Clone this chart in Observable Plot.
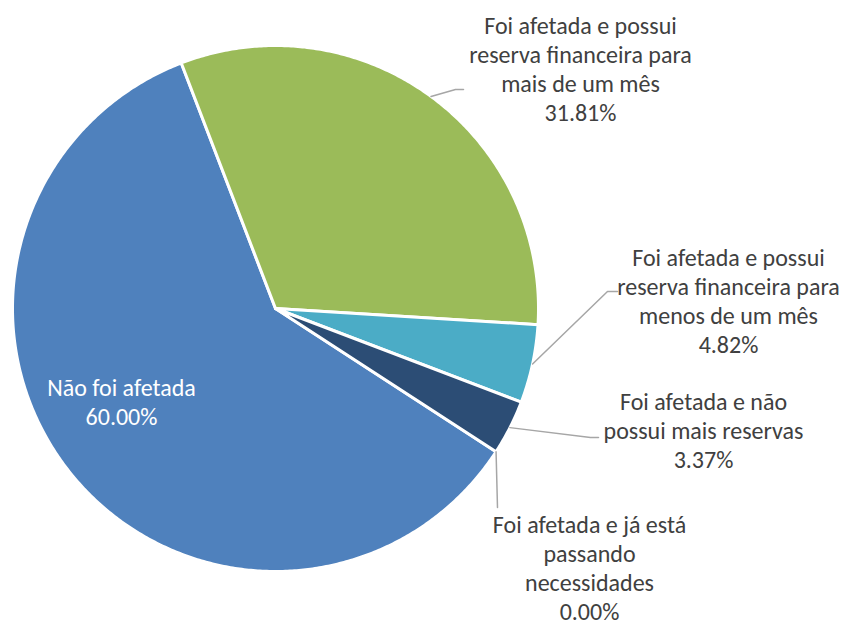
<!DOCTYPE html>
<html><head><meta charset="utf-8">
<script src="https://cdn.jsdelivr.net/npm/d3@7"></script>
<script src="https://cdn.jsdelivr.net/npm/@observablehq/plot@0.6"></script>
<style>html,body{margin:0;padding:0;background:#fff}</style>
</head><body><div id="chart"></div>
<script>
// ---- data ----
const categories = [
  "Não foi afetada",
  "Foi afetada e possui reserva financeira para mais de um mês",
  "Foi afetada e possui reserva financeira para menos de um mês",
  "Foi afetada e não possui mais reservas",
  "Foi afetada e já está passando necessidades"
];
const values = [60.00, 31.81, 4.82, 3.37, 0.00];
const labelLines = [
  ["Não foi afetada"],
  ["Foi afetada e possui", "reserva financeira para", "mais de um mês"],
  ["Foi afetada e possui", "reserva financeira para", "menos de um mês"],
  ["Foi afetada e não", "possui mais reservas"],
  ["Foi afetada e já está", "passando", "necessidades"]
];
const colors = ["#4F81BD", "#9BBB59", "#4BACC6", "#2C4D75", "#8064A2"];

// ---- layout ----
const W = 844, H = 621;
const cx = 275, cy = 308, R = 263, firstSliceAngle = 123;
const labelLayout = [
  {x: 121, y: 401, inside: true, elbow: []},
  {x: 580, y: 68, elbow: [[455, 89], [463, 89]]},
  {x: 728, y: 300, elbow: [[607, 291], [617, 291]]},
  {x: 703, y: 429, elbow: [[590, 437], [598, 437]]},
  {x: 589, y: 567, elbow: [[497, 507]]}
];
const fontFamily = "Calibri, Carlito, Lato, sans-serif";
const fontSize = 24;

const rad = d => d * Math.PI / 180;
const arcs = d3.pie().sort(null).value(d => d)
  .startAngle(rad(firstSliceAngle)).endAngle(rad(firstSliceAngle + 360))(values);

const pt = (a, r) => ({x: cx + r * Math.sin(a), y: cy - r * Math.cos(a)});

const sliceMarks = arcs.map((a, i) => {
  if (a.endAngle - a.startAngle <= 0) return null;
  const pts = [{x: cx, y: cy}];
  const n = Math.max(2, Math.ceil((a.endAngle - a.startAngle) / rad(0.5)));
  for (let k = 0; k <= n; k++) pts.push(pt(a.startAngle + (a.endAngle - a.startAngle) * k / n, R));
  return Plot.line(pts, {x: "x", y: "y", curve: "linear-closed", fill: colors[i], stroke: "white", strokeWidth: 3, strokeLinejoin: "round"});
}).filter(Boolean);

const leaders = [];
arcs.forEach((a, i) => {
  const L = labelLayout[i];
  if (L.inside) return;
  const mid = (a.startAngle + a.endAngle) / 2;
  const s = pt(mid, R);
  leaders.push({id: i, x: s.x, y: s.y});
  L.elbow.forEach(([x, y]) => leaders.push({id: i, x, y}));
});

const labels = arcs.map((a, i) => ({
  x: labelLayout[i].x,
  y: labelLayout[i].y,
  inside: !!labelLayout[i].inside,
  text: [...labelLines[i], d3.format(".2f")(values[i]) + "%"].join("\n")
}));

const chart = Plot.plot({
  width: W, height: H,
  margin: 0,
  x: {domain: [0, W], range: [0, W], axis: null},
  y: {domain: [0, H], range: [0, H], axis: null},
  style: {background: "white"},
  marks: [
    ...sliceMarks,
    Plot.line(leaders, {x: "x", y: "y", z: "id", stroke: "#A6A6A6", strokeWidth: 1.5}),
    Plot.text(labels.filter(d => !d.inside), {x: "x", y: "y", text: "text", fill: "#404040", fontSize, fontFamily, lineHeight: 1.21, lineAnchor: "middle"}),
    Plot.text(labels.filter(d => d.inside), {x: "x", y: "y", text: "text", fill: "white", fontSize, fontFamily, lineHeight: 1.17, lineAnchor: "middle"})
  ]
});
document.getElementById("chart").appendChild(chart);
</script>
</body></html>
